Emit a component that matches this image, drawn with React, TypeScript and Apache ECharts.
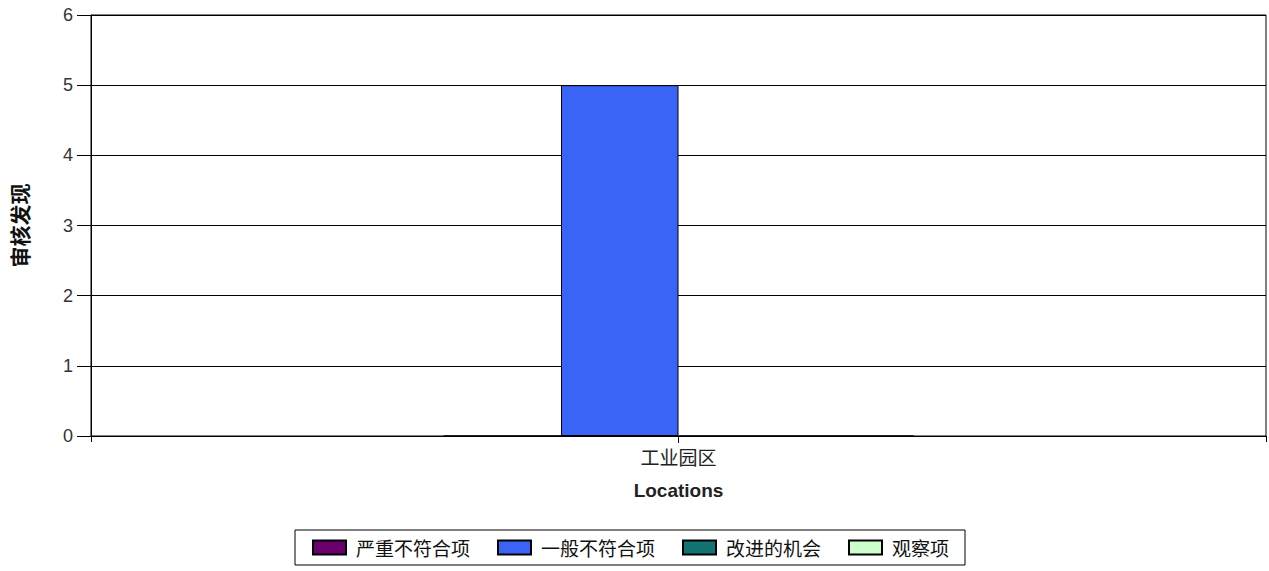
import React, { useEffect, useRef } from "react";
import * as echarts from "echarts";

const categories = ["工业园区"];
const seriesNames = ["严重不符合项", "一般不符合项", "改进的机会", "观察项"];
const seriesValues = [[0], [5], [0], [0]];
const seriesColors = ["#6a006c", "#3a64f6", "#137373", "#ccffcc"];
const yTicks = { min: 0, max: 6, interval: 1 };

const CJK = '"Noto Sans CJK SC", "Liberation Sans", Arial, sans-serif';
const LAT = '"Liberation Sans", Arial, "Noto Sans CJK SC", sans-serif';

export default function App() {
  const ref = useRef<HTMLDivElement>(null);
  useEffect(() => {
    if (!ref.current) return;
    const chart = echarts.init(ref.current, undefined, { renderer: "svg" });
    chart.setOption({
      animation: false,
      backgroundColor: "#ffffff",
      grid: {
        left: 91,
        right: 3,
        top: 15,
        bottom: 135,
        show: true,
        borderColor: "#000",
        borderWidth: 1,
        backgroundColor: "transparent",
      },
      legend: {
        left: 295,
        top: 530,
        data: seriesNames,
        icon: "rect",
        itemWidth: 33,
        itemHeight: 14,
        itemGap: 27,
        padding: [8, 16, 8, 17],
        borderColor: "#000",
        borderWidth: 1,
        textStyle: {
          fontFamily: CJK,
          fontSize: 19,
          color: "#111",
          padding: [0, 0, 0, 5],
        },
      },
      xAxis: [
        {
          type: "category",
          data: categories,
          name: "Locations",
          nameLocation: "middle",
          nameGap: 45,
          nameTextStyle: {
            fontFamily: LAT,
            fontSize: 19,
            fontWeight: "bold",
            color: "#222",
          },
          axisLine: { show: true, lineStyle: { color: "#000", width: 1 } },
          axisTick: { show: true, alignWithLabel: true, length: 7, lineStyle: { color: "#000" } },
          axisLabel: {
            margin: 11,
            fontFamily: CJK,
            fontSize: 19,
            color: "#222",
          },
        },
        {
          type: "category",
          data: [""],
          position: "bottom",
          axisLine: { show: false },
          axisTick: { show: true, length: 6, lineStyle: { color: "#000" } },
          axisLabel: { show: false },
        },
      ],
      yAxis: {
        type: "value",
        min: yTicks.min,
        max: yTicks.max,
        interval: yTicks.interval,
        name: "审核发现",
        nameLocation: "middle",
        nameGap: 62,
        nameTextStyle: {
          fontFamily: CJK,
          fontSize: 21,
          fontWeight: "bold",
          color: "#111",
        },
        axisLine: { show: true, lineStyle: { color: "#000", width: 1 } },
        axisTick: { show: true, length: 14, lineStyle: { color: "#000" } },
        axisLabel: {
          margin: 18,
          fontFamily: LAT,
          fontSize: 18,
          color: "#333",
        },
        splitLine: { show: true, lineStyle: { color: "#000", width: 1 } },
      },
      series: seriesNames.map((name, i) => ({
        name,
        type: "bar",
        xAxisIndex: 0,
        data: seriesValues[i],
        barGap: "0%",
        barCategoryGap: "60%",
        itemStyle: {
          color: seriesColors[i],
          borderColor: "#000",
          borderWidth: 1,
        },
      })),
    });
    return () => chart.dispose();
  }, []);
  return (
    <div
      ref={ref}
      style={{ position: "fixed", left: 0, top: 0, width: 1269, height: 571, background: "#fff" }}
    />
  );
}
